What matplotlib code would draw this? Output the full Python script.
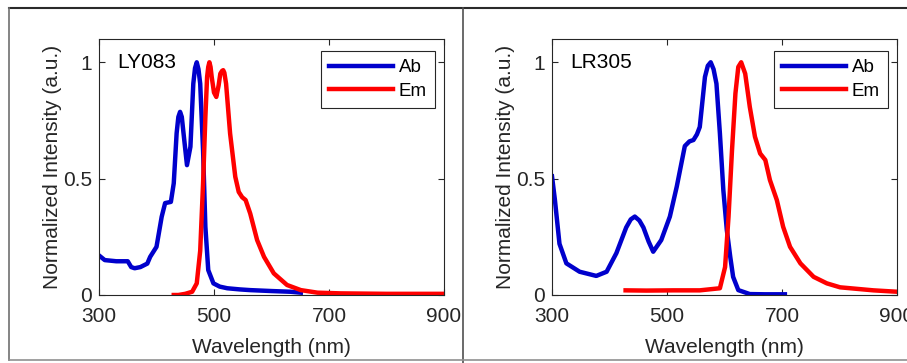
import matplotlib
matplotlib.use('Agg')
import matplotlib.pyplot as plt
from matplotlib.lines import Line2D

plt.rcParams['font.family'] = ['Liberation Sans', 'DejaVu Sans']
plt.rcParams['font.size'] = 15

# LY083 absorption / emission
ly_ab_wl = [300, 310, 330, 350, 356, 362, 372, 384, 389, 400, 409, 415, 425, 430, 435,
            438, 441, 444, 447, 453, 459, 464, 467, 470, 473, 476, 481, 485, 490, 499,
            510, 523, 545, 563, 600, 633, 651]
ly_ab = [0.17, 0.15, 0.145, 0.145, 0.12, 0.115, 0.12, 0.135, 0.164, 0.207, 0.336, 0.395,
         0.40, 0.48, 0.695, 0.765, 0.787, 0.765, 0.695, 0.558, 0.637, 0.908, 0.975, 1.0,
         0.97, 0.908, 0.62, 0.293, 0.107, 0.05, 0.036, 0.029, 0.024, 0.021, 0.017, 0.014,
         0.01]
ly_em_wl = [430, 438, 450, 462, 470, 476, 481, 485, 488, 490, 492, 494, 496, 500, 504,
            508, 511, 514, 516, 518, 521, 528, 537, 543, 549, 555, 563, 575, 587, 604,
            627, 651, 680, 720, 800, 900]
ly_em = [0.0, 0.0, 0.005, 0.014, 0.05, 0.19, 0.48, 0.765, 0.937, 0.98, 1.0, 0.98, 0.937,
         0.87, 0.851, 0.90, 0.951, 0.963, 0.966, 0.955, 0.908, 0.694, 0.508, 0.443, 0.42,
         0.408, 0.35, 0.236, 0.164, 0.093, 0.043, 0.021, 0.01, 0.007, 0.005, 0.005]

# LR305 absorption / emission
lr_ab_wl = [300, 305, 313, 325, 348, 377, 395, 412, 429, 437, 444, 452, 459, 468, 476,
            490, 505, 517, 531, 539, 546, 552, 557, 566, 571, 576, 581, 586, 592, 598,
            604, 610, 615, 624, 644, 670, 705]
lr_ab = [0.51, 0.41, 0.22, 0.136, 0.10, 0.082, 0.10, 0.18, 0.29, 0.325, 0.337, 0.32,
         0.29, 0.23, 0.186, 0.236, 0.337, 0.466, 0.64, 0.66, 0.666, 0.69, 0.722, 0.937,
         0.985, 1.0, 0.97, 0.908, 0.694, 0.45, 0.28, 0.164, 0.078, 0.021, 0.004, 0.003,
         0.003]
lr_em_wl = [428, 464, 511, 557, 592, 601, 607, 613, 619, 624, 629, 636, 644, 653, 662,
            671, 679, 691, 702, 714, 732, 755, 778, 801, 859, 900]
lr_em = [0.02, 0.019, 0.02, 0.02, 0.029, 0.12, 0.336, 0.62, 0.866, 0.98, 1.0, 0.951,
         0.808, 0.68, 0.608, 0.58, 0.494, 0.408, 0.293, 0.207, 0.136, 0.078, 0.05, 0.033,
         0.02, 0.014]

panels = [
    ('LY083', ly_ab_wl, ly_ab, ly_em_wl, ly_em),
    ('LR305', lr_ab_wl, lr_ab, lr_em_wl, lr_em),
]

W, H = 907, 363
fig = plt.figure(figsize=(W / 100, H / 100), dpi=100)

ax_lefts = [99, 552]
for (name, ab_wl, ab, em_wl, em), left in zip(panels, ax_lefts):
    ax = fig.add_axes([left / W, (H - 295) / H, 345 / W, 256 / H])
    ax.plot(ab_wl, ab, color='#0000CC', lw=3.2, label='Ab', solid_joinstyle='round')
    ax.plot(em_wl, em, color='#FF0000', lw=3.2, label='Em', solid_joinstyle='round')
    ax.set_xlim(300, 900)
    ax.set_ylim(0, 1.1)
    ax.set_xticks([300, 500, 700, 900])
    ax.set_yticks([0, 0.5, 1])
    ax.set_yticklabels(['0', '0.5', '1'])
    ax.tick_params(direction='in', top=True, right=True, length=4, width=0.8,
                   labelsize=15, colors='#262626')
    ax.tick_params(axis='x', pad=9)
    ax.tick_params(axis='y', pad=5)
    for s in ax.spines.values():
        s.set_color('#262626')
        s.set_linewidth(0.8)
    ax.set_xlabel('Wavelength (nm)', fontsize=15, color='#262626', labelpad=8)
    ax.set_ylabel('Normalized Intensity (a.u.)', fontsize=15, color='#262626', labelpad=1)
    ax.text(0.052, 0.945, name, transform=ax.transAxes, fontsize=15, va='top', ha='left')
    leg = ax.legend(loc='upper right', bbox_to_anchor=(0.975, 0.955), fontsize=13.5,
                    handlelength=3.4, handletextpad=0.3, borderpad=0.45,
                    labelspacing=0.35, fancybox=False, framealpha=1, borderaxespad=0)
    leg.get_frame().set_edgecolor('#262626')
    leg.get_frame().set_linewidth(0.8)

# panel frames
def fig_line(x0, y0, x1, y1, color, lw):
    fig.add_artist(Line2D([x0 / W, x1 / W], [1 - y0 / H, 1 - y1 / H],
                          transform=fig.transFigure, color=color, lw=lw))

fig_line(9, 8, W, 8, '#2a2a2a', 1.5)
fig_line(9, 8, 9, 360, '#707070', 1.2)
fig_line(463, 8, 463, H, '#505050', 1.2)
fig_line(9, 360, W, 360, '#909090', 1.2)

fig.savefig('out.png', dpi=100)
